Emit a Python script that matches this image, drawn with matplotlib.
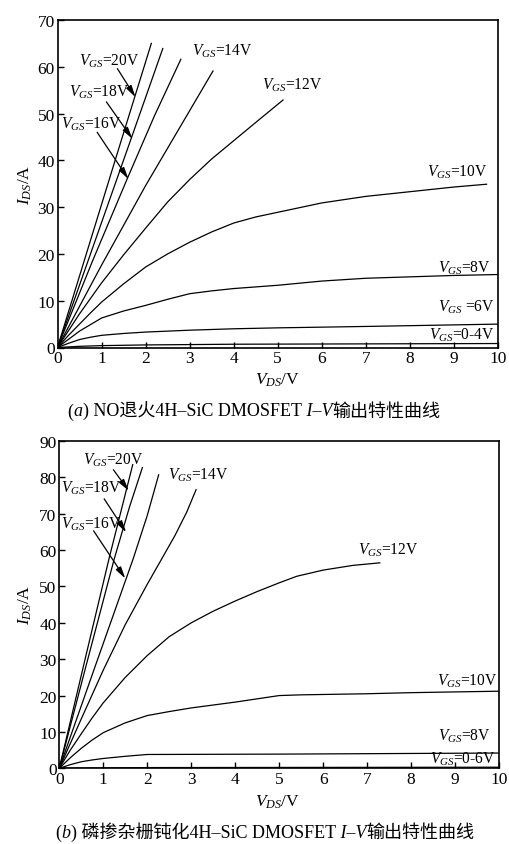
import matplotlib
matplotlib.use("Agg")
import matplotlib.pyplot as plt
import numpy as np
from matplotlib.offsetbox import TextArea, HPacker, AnnotationBbox

plt.rcParams['font.family'] = ['Liberation Serif', 'Noto Sans CJK SC']
plt.rcParams['mathtext.fontset'] = 'custom'
plt.rcParams['mathtext.rm'] = 'Liberation Serif'
plt.rcParams['mathtext.it'] = 'Liberation Serif:italic'
plt.rcParams['mathtext.bf'] = 'Liberation Serif:bold'

# ---------------- data: panel (a) NO anneal ----------------
a_vgs0_4_v = [0, 0.5, 1, 2, 4, 6, 10]
a_vgs0_4_i = [0, 0.25, 0.4, 0.55, 0.7, 0.75, 0.85]
a_vgs6_v = [0, 0.25, 0.5, 0.75, 1, 1.5, 2, 3, 4, 5, 7, 10]
a_vgs6_i = [0, 0.9, 1.7, 2.2, 2.6, 3.0, 3.3, 3.7, 4.0, 4.2, 4.5, 5.0]
a_vgs8_v = [0, 0.5, 1, 1.5, 2, 2.5, 3, 3.5, 4, 5, 6, 7, 8, 9, 10]
a_vgs8_i = [0, 3.5, 6.3, 7.8, 9.0, 10.3, 11.5, 12.1, 12.6, 13.3, 14.2, 14.8, 15.1, 15.4, 15.6]
a_vgs10_v = [0, 0.25, 0.5, 0.75, 1, 1.5, 2, 2.5, 3, 3.5, 4, 4.5, 5, 6, 7, 8, 9, 9.74]
a_vgs10_i = [0, 2.6, 5.0, 7.4, 9.7, 13.6, 17.2, 20.0, 22.5, 24.7, 26.6, 27.9, 28.9, 30.9, 32.3,
             33.3, 34.3, 34.9]
a_vgs12_v = [0, 0.5, 1, 1.5, 2, 2.5, 3, 3.5, 4, 4.5, 5.12]
a_vgs12_i = [0, 7.2, 13.8, 19.8, 25.5, 31.1, 35.9, 40.3, 44.2, 48.1, 52.9]
a_vgs14_v = [0, 1, 2, 3.53]
a_vgs14_i = [0, 17.6, 34.6, 59.1]
a_vgs16_v = [0, 0.8, 1.58, 2.2, 2.80]
a_vgs16_i = [0, 18.6, 36.0, 49.5, 61.6]
a_vgs18_v = [0, 1.67, 2.39]
a_vgs18_i = [0, 44.6, 63.9]
a_vgs20_v = [0, 1.39, 2.13]
a_vgs20_i = [0, 42.5, 65.0]

# ---------------- data: panel (b) P-doped gate passivation ----------------
b_vgs0_6_v = [0, 2, 10]
b_vgs0_6_i = [0, 0.2, 0.3]
b_vgs8_v = [0, 0.25, 0.5, 0.75, 1, 1.5, 2, 5, 10]
b_vgs8_i = [0, 1.0, 1.8, 2.3, 2.7, 3.3, 3.8, 3.9, 4.2]
b_vgs10_v = [0, 0.25, 0.5, 0.75, 1, 1.5, 2, 2.5, 3, 3.5, 4, 4.5, 5, 5.5, 6, 7, 8, 9, 10]
b_vgs10_i = [0, 2.9, 5.5, 7.8, 9.8, 12.5, 14.5, 15.6, 16.6, 17.4, 18.2, 19.1, 20.0, 20.2, 20.3,
             20.5, 20.8, 21.0, 21.2]
b_vgs12_v = [0, 0.25, 0.5, 0.75, 1, 1.5, 2, 2.5, 3, 3.5, 4, 4.5, 5, 5.4, 6, 6.68, 7.29]
b_vgs12_i = [0, 5.0, 9.5, 13.9, 18, 25, 31, 36.2, 40, 43.2, 46.0, 48.6, 51.0, 52.8, 54.5, 55.8, 56.5]
b_vgs14_v = [0, 0.5, 1, 1.5, 2, 2.33, 2.63, 2.9, 3.11]
b_vgs14_i = [0, 13.6, 27.0, 39.5, 50.6, 57.6, 64.0, 70.5, 76.6]
b_vgs16_v = [0, 0.8, 1.68, 2.0, 2.26]
b_vgs16_i = [0, 27.5, 57.6, 69.5, 80.7]
b_vgs18_v = [0, 0.6, 1.25, 1.6, 1.89]
b_vgs18_i = [0, 27.8, 57.6, 72.0, 82.7]
b_vgs20_v = [0, 0.6, 1.13, 1.67]
b_vgs20_i = [0, 30.7, 57.6, 83.5]

x_ticks = list(range(0, 11))
a_y_ticks = list(range(0, 71, 10))
b_y_ticks = list(range(0, 91, 10))

a_curves = [(a_vgs0_4_v, a_vgs0_4_i), (a_vgs6_v, a_vgs6_i), (a_vgs8_v, a_vgs8_i),
            (a_vgs10_v, a_vgs10_i), (a_vgs12_v, a_vgs12_i), (a_vgs14_v, a_vgs14_i),
            (a_vgs16_v, a_vgs16_i), (a_vgs18_v, a_vgs18_i), (a_vgs20_v, a_vgs20_i)]
b_curves = [(b_vgs0_6_v, b_vgs0_6_i), (b_vgs8_v, b_vgs8_i), (b_vgs10_v, b_vgs10_i),
            (b_vgs12_v, b_vgs12_i), (b_vgs14_v, b_vgs14_i), (b_vgs16_v, b_vgs16_i),
            (b_vgs18_v, b_vgs18_i), (b_vgs20_v, b_vgs20_i)]

# labels: (text, x, y)
a_labels = [("=0-4V", 8.44, 1.9), (" =6V", 8.63, 7.8), ("=8V", 8.63, 16.2), ("=10V", 8.38, 36.7),
            ("=12V", 4.65, 55.3), ("=14V", 3.06, 62.6), ("=16V", 0.07, 46.9), ("=18V", 0.25, 53.9),
            ("=20V", 0.48, 60.5)]
a_arrows = [((1.36, 59.6), (1.77, 53.5)), ((1.11, 52.5), (1.70, 44.6)), ((0.90, 46.0), (1.61, 36.0))]
b_labels = [("=0-6V", 8.43, 1.6), ("=8V", 8.62, 7.9), ("=10V", 8.58, 22.9), ("=12V", 6.80, 59.0),
            ("=14V", 2.48, 79.6), ("=16V", 0.05, 66.3), ("=18V", 0.05, 76.1), ("=20V", 0.55, 83.8)]
b_arrows = [((1.23, 82.1), (1.58, 76.3)), ((1.02, 74.1), (1.52, 64.9)), ((0.78, 65.3), (1.50, 52.2))]

W, H = 509, 845
fig = plt.figure(figsize=(W / 100, H / 100), dpi=100)


def fx(px):
    return px / W


def fy(py):
    return 1 - py / H


def make_axes(l, r, t, b, curves, yticks, labels, arrows):
    ax = fig.add_axes([fx(l), fy(b), fx(r) - fx(l), fy(t) - fy(b)])
    for v, i in curves:
        ax.plot(v, i, color='black', lw=0.9, solid_joinstyle='round')
    ax.set_xlim(0, 10)
    ax.set_ylim(0, yticks[-1])
    ax.set_xticks(x_ticks)
    ax.set_yticks(yticks)
    ax.tick_params(direction='in', length=4, width=1.0, labelsize=12.5, pad=2, colors='black')
    for s in ax.spines.values():
        s.set_linewidth(1.2)
    for txt, x, y in labels:
        ax.text(x, y, r'$V_{GS}$' + txt, fontsize=11.2, ha='left', va='baseline')
    for (x0, y0), (x1, y1) in arrows:
        ax.annotate('', xy=(x1, y1), xytext=(x0, y0),
                    arrowprops=dict(arrowstyle='-|>,head_length=0.7,head_width=0.18', lw=0.9,
                                    color='black', shrinkA=0, shrinkB=0, mutation_scale=10))
    return ax


ax1 = make_axes(57.5, 498, 21, 348.5, a_curves, a_y_ticks, a_labels, a_arrows)
ax2 = make_axes(59.3, 499, 442, 769.3, b_curves, b_y_ticks, b_labels, b_arrows)

fig.text(fx(25), fy(185), r'$I_{DS}$/A', rotation=90, ha='center', va='center', fontsize=12.5)
fig.text(fx(278), fy(380), r'$V_{DS}$/V', ha='center', va='center', fontsize=12.5)
fig.text(fx(25), fy(605), r'$I_{DS}$/A', rotation=90, ha='center', va='center', fontsize=12.5)
fig.text(fx(278), fy(802), r'$V_{DS}$/V', ha='center', va='center', fontsize=12.5)

SER = ['Liberation Serif', 'Noto Sans CJK SC']


def caption(parts, xc, yc):
    boxes = [TextArea(t, textprops=dict(fontsize=13, family=SER, style=st, color='black'))
             for t, st in parts]
    pack = HPacker(children=boxes, align='baseline', pad=0, sep=0)
    ab = AnnotationBbox(pack, (fx(xc), fy(yc)), xycoords='figure fraction', frameon=False,
                        box_alignment=(0.5, 0.5), pad=0)
    fig.add_artist(ab)


caption([('(', 'normal'), ('a', 'italic'), (') NO退火4H–SiC DMOSFET', 'normal'),
         (' I–V', 'italic'), ('输出特性曲线', 'normal')], 254, 411)
caption([('(', 'normal'), ('b', 'italic'), (') 磷掺杂栅钝化4H–SiC DMOSFET', 'normal'),
         (' I–V', 'italic'), ('输出特性曲线', 'normal')], 265, 832)

fig.savefig('out.png', dpi=100, facecolor='white')
